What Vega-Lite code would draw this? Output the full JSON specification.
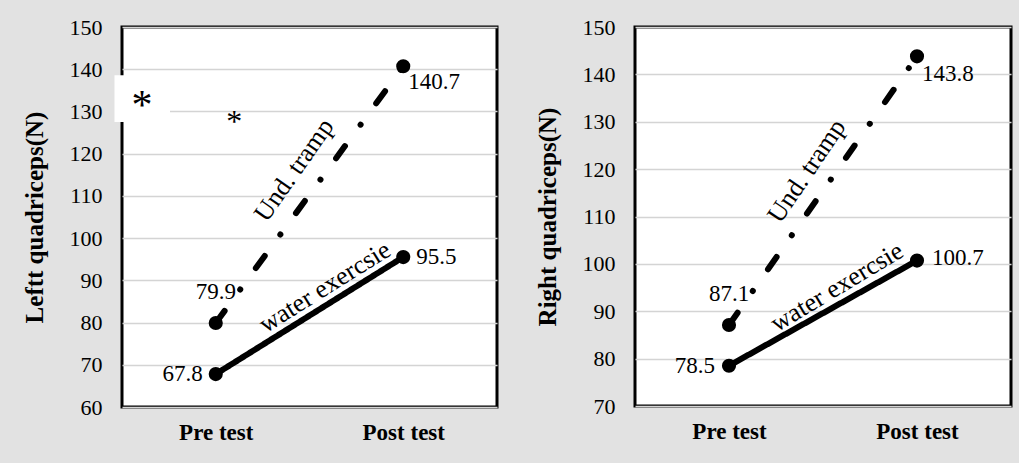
{
  "$schema": "https://vega.github.io/schema/vega-lite/v6.json",
  "background": "#e2e2e2",
  "padding": {"left": 20, "top": 14, "right": 12, "bottom": 17},
  "datasets": {
    "points": [
      {"side": "Left", "group": "Und. tramp", "test": "Pre test", "value": 79.9},
      {"side": "Left", "group": "Und. tramp", "test": "Post test", "value": 140.7},
      {"side": "Left", "group": "water exercsie", "test": "Pre test", "value": 67.8},
      {"side": "Left", "group": "water exercsie", "test": "Post test", "value": 95.5},
      {"side": "Right", "group": "Und. tramp", "test": "Pre test", "value": 87.1},
      {"side": "Right", "group": "Und. tramp", "test": "Post test", "value": 143.8},
      {"side": "Right", "group": "water exercsie", "test": "Pre test", "value": 78.5},
      {"side": "Right", "group": "water exercsie", "test": "Post test", "value": 100.7}
    ],
    "notes": [
      {"side": "Left", "kind": "mask", "pos": -0.02, "pos2": 0.128, "value": 138.6, "value2": 127.5},
      {"side": "Left", "kind": "tramp", "text": "Und. tramp", "pos": 0.459, "value": 116.1},
      {"side": "Left", "kind": "water", "text": "water exercsie", "pos": 0.541, "value": 88.4},
      {"side": "Left", "kind": "starBig", "text": "*", "pos": 0.053, "value": 131.4},
      {"side": "Left", "kind": "starSmall", "text": "*", "pos": 0.299, "value": 127.6},
      {"side": "Right", "kind": "tramp", "text": "Und. tramp", "pos": 0.457, "value": 119.6},
      {"side": "Right", "kind": "water", "text": "water exercsie", "pos": 0.537, "value": 95.1}
    ]
  },
  "hconcat": [
    {
      "width": 375,
      "height": 380,
      "encoding": {
        "y": {
          "field": "value", "type": "quantitative",
          "scale": {"domain": [60, 150], "nice": false, "zero": false},
          "axis": {"values": [60, 70, 80, 90, 100, 110, 120, 130, 140, 150], "title": "Leftt quadriceps(N)"}
        }
      },
      "layer": [
        {
          "data": {"name": "points"},
          "transform": [{"filter": "datum.side == 'Left'"}],
          "encoding": {
            "x": {"field": "test", "type": "nominal", "sort": ["Pre test", "Post test"], "axis": {"title": null}}
          },
          "layer": [
            {
              "mark": {"type": "line", "color": "black", "strokeWidth": 6, "strokeCap": "round"},
              "encoding": {
                "detail": {"field": "group"},
                "strokeDash": {"field": "group", "type": "nominal", "scale": {"domain": ["Und. tramp", "water exercsie"], "range": [[15, 26.5, 0.01, 26.5], [1, 0]]}, "legend": null}
              }
            },
            {"mark": {"type": "point", "filled": true, "color": "black", "opacity": 1, "size": 200}},
            {
              "transform": [{"filter": "datum.group == 'Und. tramp' && datum.test == 'Pre test'"}],
              "mark": {"type": "text", "align": "center", "baseline": "middle", "dy": -31, "fontSize": 23, "font": "Liberation Serif"},
              "encoding": {"text": {"field": "value", "format": ".1f"}}
            },
            {
              "transform": [{"filter": "datum.group == 'Und. tramp' && datum.test == 'Post test'"}],
              "mark": {"type": "text", "align": "left", "baseline": "middle", "dx": 5, "dy": 16, "fontSize": 23, "font": "Liberation Serif"},
              "encoding": {"text": {"field": "value", "format": ".1f"}}
            },
            {
              "transform": [{"filter": "datum.group == 'water exercsie' && datum.test == 'Pre test'"}],
              "mark": {"type": "text", "align": "right", "baseline": "middle", "dx": -13, "fontSize": 23, "font": "Liberation Serif"},
              "encoding": {"text": {"field": "value", "format": ".1f"}}
            },
            {
              "transform": [{"filter": "datum.group == 'water exercsie' && datum.test == 'Post test'"}],
              "mark": {"type": "text", "align": "left", "baseline": "middle", "dx": 13, "fontSize": 23, "font": "Liberation Serif"},
              "encoding": {"text": {"field": "value", "format": ".1f"}}
            }
          ]
        },
        {
          "data": {"name": "notes"},
          "transform": [{"filter": "datum.side == 'Left'"}],
          "encoding": {
            "x": {"field": "pos", "type": "quantitative", "scale": {"domain": [0, 1], "nice": false, "zero": false}, "axis": null}
          },
          "layer": [
            {
              "transform": [{"filter": "datum.kind == 'mask'"}],
              "mark": {"type": "rect", "color": "white", "opacity": 1},
              "encoding": {"x2": {"field": "pos2"}, "y2": {"field": "value2"}}
            },
            {
              "transform": [{"filter": "datum.kind == 'tramp'"}],
              "mark": {"type": "text", "angle": -55, "align": "center", "baseline": "middle", "fontSize": 26, "font": "Liberation Serif"},
              "encoding": {"text": {"field": "text"}}
            },
            {
              "transform": [{"filter": "datum.kind == 'water'"}],
              "mark": {"type": "text", "angle": -32, "align": "center", "baseline": "middle", "fontSize": 26, "font": "Liberation Serif"},
              "encoding": {"text": {"field": "text"}}
            },
            {
              "transform": [{"filter": "datum.kind == 'starBig'"}],
              "mark": {"type": "text", "align": "center", "baseline": "middle", "fontSize": 42, "font": "Liberation Serif"},
              "encoding": {"text": {"field": "text"}}
            },
            {
              "transform": [{"filter": "datum.kind == 'starSmall'"}],
              "mark": {"type": "text", "align": "center", "baseline": "middle", "fontSize": 32, "font": "Liberation Serif"},
              "encoding": {"text": {"field": "text"}}
            }
          ]
        }
      ],
      "resolve": {"scale": {"x": "independent"}}
    },
    {
      "width": 376,
      "height": 379,
      "encoding": {
        "y": {
          "field": "value", "type": "quantitative",
          "scale": {"domain": [70, 150], "nice": false, "zero": false},
          "axis": {"values": [70, 80, 90, 100, 110, 120, 130, 140, 150], "title": "Right quadriceps(N)"}
        }
      },
      "layer": [
        {
          "data": {"name": "points"},
          "transform": [{"filter": "datum.side == 'Right'"}],
          "encoding": {
            "x": {"field": "test", "type": "nominal", "sort": ["Pre test", "Post test"], "axis": {"title": null}}
          },
          "layer": [
            {
              "mark": {"type": "line", "color": "black", "strokeWidth": 6, "strokeCap": "round"},
              "encoding": {
                "detail": {"field": "group"},
                "strokeDash": {"field": "group", "type": "nominal", "scale": {"domain": ["Und. tramp", "water exercsie"], "range": [[15, 26.5, 0.01, 26.5], [1, 0]]}, "legend": null}
              }
            },
            {"mark": {"type": "point", "filled": true, "color": "black", "opacity": 1, "size": 200}},
            {
              "transform": [{"filter": "datum.group == 'Und. tramp' && datum.test == 'Pre test'"}],
              "mark": {"type": "text", "align": "center", "baseline": "middle", "dy": -31, "fontSize": 23, "font": "Liberation Serif"},
              "encoding": {"text": {"field": "value", "format": ".1f"}}
            },
            {
              "transform": [{"filter": "datum.group == 'Und. tramp' && datum.test == 'Post test'"}],
              "mark": {"type": "text", "align": "left", "baseline": "middle", "dx": 5, "dy": 18, "fontSize": 23, "font": "Liberation Serif"},
              "encoding": {"text": {"field": "value", "format": ".1f"}}
            },
            {
              "transform": [{"filter": "datum.group == 'water exercsie' && datum.test == 'Pre test'"}],
              "mark": {"type": "text", "align": "right", "baseline": "middle", "dx": -14, "fontSize": 23, "font": "Liberation Serif"},
              "encoding": {"text": {"field": "value", "format": ".1f"}}
            },
            {
              "transform": [{"filter": "datum.group == 'water exercsie' && datum.test == 'Post test'"}],
              "mark": {"type": "text", "align": "left", "baseline": "middle", "dx": 15, "dy": -3, "fontSize": 23, "font": "Liberation Serif"},
              "encoding": {"text": {"field": "value", "format": ".1f"}}
            }
          ]
        },
        {
          "data": {"name": "notes"},
          "transform": [{"filter": "datum.side == 'Right'"}],
          "encoding": {
            "x": {"field": "pos", "type": "quantitative", "scale": {"domain": [0, 1], "nice": false, "zero": false}, "axis": null}
          },
          "layer": [
            {
              "transform": [{"filter": "datum.kind == 'tramp'"}],
              "mark": {"type": "text", "angle": -56, "align": "center", "baseline": "middle", "fontSize": 26, "font": "Liberation Serif"},
              "encoding": {"text": {"field": "text"}}
            },
            {
              "transform": [{"filter": "datum.kind == 'water'"}],
              "mark": {"type": "text", "angle": -31, "align": "center", "baseline": "middle", "fontSize": 26, "font": "Liberation Serif"},
              "encoding": {"text": {"field": "text"}}
            }
          ]
        }
      ],
      "resolve": {"scale": {"x": "independent"}}
    }
  ],
  "spacing": 34,
  "config": {
    "font": "Liberation Serif",
    "view": {"fill": "white", "stroke": "black", "strokeWidth": 3},
    "axis": {
      "labelFont": "Liberation Serif",
      "titleFont": "Liberation Serif",
      "labelColor": "black",
      "titleColor": "black",
      "domain": false,
      "ticks": false,
      "gridColor": "#d4d4d4",
      "gridWidth": 1.5
    },
    "axisY": {"labelFontSize": 22, "labelPadding": 20, "titleFontSize": 25, "titleFontWeight": "bold", "titlePadding": 22, "grid": true},
    "axisX": {"labelFontSize": 23, "labelFontWeight": "bold", "labelPadding": 14, "labelAngle": 0, "grid": false}
  }
}
